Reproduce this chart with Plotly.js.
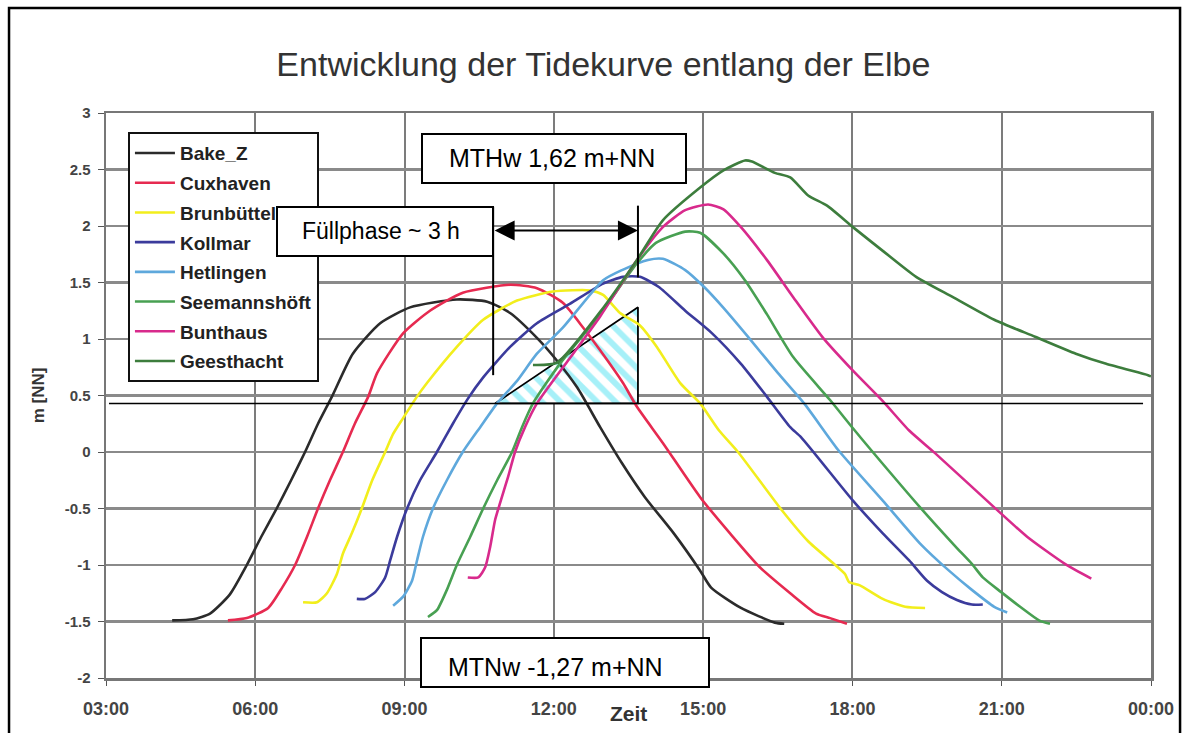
<!DOCTYPE html>
<html>
<head>
<meta charset="utf-8">
<script src="https://cdn.plot.ly/plotly-3.0.1.min.js"></script>
<style>html,body{margin:0;padding:0;background:#fff;}#chart{width:1183px;height:733px;}</style>
</head>
<body>
<div id="chart"></div>
<script>
// Time in hours (03:00 = 3, 00:00 next day = 24), water level in m [NN]
var bakeZ_t = [4.33,4.75,5.09,5.49,5.83,6.12,6.43,6.72,7.00,7.26,7.54,7.96,8.51,9.11,10.05,10.66,11.12,11.66,12.06,12.47,12.93,13.37,13.83,14.41,14.94,15.16,15.76,16.44,16.63];
var bakeZ_m = [-1.49,-1.48,-1.43,-1.26,-1.00,-0.75,-0.50,-0.25,0.00,0.25,0.49,0.87,1.14,1.28,1.35,1.33,1.23,1.01,0.81,0.57,0.22,-0.10,-0.40,-0.72,-1.05,-1.20,-1.38,-1.51,-1.52];

var cux_t = [5.45,5.83,6.26,6.54,6.80,7.04,7.26,7.50,7.76,8.00,8.27,8.45,8.97,9.51,10.17,11.12,11.66,12.18,12.59,12.93,13.39,13.67,14.19,14.94,15.54,16.14,16.75,17.27,17.55,17.89];
var cux_m = [-1.49,-1.47,-1.38,-1.20,-1.00,-0.75,-0.50,-0.25,0.00,0.25,0.49,0.70,1.05,1.25,1.41,1.48,1.45,1.32,1.10,0.90,0.61,0.40,0.08,-0.40,-0.72,-1.02,-1.25,-1.43,-1.47,-1.52];

var brun_t = [6.96,7.24,7.44,7.64,7.76,7.94,8.14,8.35,8.61,8.77,8.97,9.25,9.45,10.05,10.58,11.26,11.98,12.73,12.99,13.33,13.73,14.07,14.54,14.94,15.32,15.70,16.59,17.11,17.63,17.85,17.93,18.15,18.61,19.06,19.46];
var brun_m = [-1.33,-1.33,-1.25,-1.08,-0.90,-0.72,-0.50,-0.25,0.00,0.16,0.30,0.49,0.61,0.93,1.17,1.34,1.42,1.43,1.39,1.23,1.12,0.93,0.61,0.43,0.19,0.00,-0.52,-0.79,-0.99,-1.08,-1.15,-1.18,-1.30,-1.37,-1.38];

var koll_t = [8.04,8.20,8.41,8.61,8.71,8.85,9.05,9.31,9.65,9.97,10.27,10.58,11.12,11.66,12.32,12.99,13.39,13.73,14.11,14.64,15.18,15.76,16.28,16.75,16.97,18.01,18.61,19.14,19.50,19.80,20.10,20.40,20.62];
var koll_m = [-1.30,-1.30,-1.24,-1.11,-0.96,-0.75,-0.50,-0.25,0.00,0.25,0.47,0.66,0.93,1.14,1.31,1.49,1.55,1.55,1.46,1.25,1.05,0.78,0.49,0.22,0.13,-0.43,-0.72,-0.96,-1.14,-1.24,-1.31,-1.35,-1.35];

var hetl_t = [8.77,8.97,9.15,9.25,9.37,9.57,9.85,10.17,10.52,10.86,11.26,11.66,12.18,12.99,13.37,13.89,14.19,14.64,15.02,15.40,15.92,16.50,17.03,17.71,18.61,19.36,19.94,20.40,20.85,21.11];
var hetl_m = [-1.36,-1.28,-1.14,-0.96,-0.75,-0.50,-0.25,0.00,0.22,0.43,0.63,0.87,1.10,1.52,1.61,1.70,1.71,1.61,1.46,1.28,1.01,0.70,0.43,0.02,-0.43,-0.81,-1.05,-1.22,-1.37,-1.42];

var seem_t = [9.47,9.65,9.85,10.05,10.32,10.58,10.86,11.16,11.36,11.58,12.12,12.93,13.67,14.05,14.64,14.94,15.40,15.84,16.28,16.81,17.55,18.01,18.37,19.36,20.10,20.40,20.62,20.99,21.37,21.75,21.97];
var seem_m = [-1.46,-1.40,-1.22,-1.00,-0.75,-0.50,-0.25,0.00,0.22,0.43,0.78,1.22,1.67,1.85,1.95,1.94,1.76,1.52,1.22,0.84,0.46,0.21,0.02,-0.49,-0.85,-0.99,-1.11,-1.24,-1.37,-1.49,-1.52];

var bunt_t = [10.27,10.48,10.62,10.72,10.82,10.92,11.08,11.22,11.42,11.66,12.32,12.93,13.67,14.19,14.64,15.10,15.40,15.76,16.28,16.81,17.41,18.01,18.61,19.14,19.66,20.85,21.51,22.27,22.80];
var bunt_m = [-1.11,-1.11,-1.02,-0.84,-0.60,-0.45,-0.22,0.00,0.22,0.43,0.83,1.20,1.70,1.99,2.14,2.19,2.15,1.99,1.70,1.37,1.01,0.72,0.45,0.19,-0.01,-0.49,-0.75,-0.99,-1.12];

var gees_t = [11.58,12.06,12.93,13.67,14.19,14.94,15.40,15.84,15.98,16.44,16.75,17.11,17.49,18.01,18.61,19.28,20.02,20.85,21.67,22.49,23.10,23.94,24.00];
var gees_m = [0.77,0.79,1.24,1.70,2.05,2.34,2.49,2.58,2.57,2.47,2.43,2.27,2.18,1.99,1.78,1.55,1.37,1.17,1.02,0.87,0.78,0.68,0.67];

var stationNames = ["Bake_Z","Cuxhaven","Brunbüttel","Kollmar","Hetlingen","Seemannshöft","Bunthaus","Geesthacht"];
var stationColors = ["#2b2b2b","#e62a50","#f2ee1c","#3b3b9c","#5ea8dc","#48a052","#d82a8c","#3d7d3d"];
var stationTimes = [bakeZ_t,cux_t,brun_t,koll_t,hetl_t,seem_t,bunt_t,gees_t];
var stationLevels = [bakeZ_m,cux_m,brun_m,koll_m,hetl_m,seem_m,bunt_m,gees_m];

var tickHours = [3,6,9,12,15,18,21,24];
var tickLabels = ["03:00","06:00","09:00","12:00","15:00","18:00","21:00","00:00"];
var yTickVals = [-2,-1.5,-1,-0.5,0,0.5,1,1.5,2,2.5,3];
var yTickLabels = ["-2","-1.5","-1","-0.5","0","0.5","1","1.5","2","2.5","3"];

// Annotation geometry (hours, m)
var meanLevel = 0.43;           // horizontal reference line
var fillStart = 10.78, fillEnd = 13.69;
var triX = [10.82, 13.69, 13.69, 10.82];
var triY = [0.43, 1.28, 0.43, 0.43];

var font = "Liberation Sans, Arial, sans-serif";

var traces = [{
  x: triX, y: triY, type: "scatter", mode: "lines", fill: "toself",
  fillcolor: "#ffffff",
  fillpattern: {shape: "\\", fgcolor: "#a6f0f8", bgcolor: "#ffffff", size: 13, solidity: 0.45},
  line: {color: "#000", width: 1.8}, showlegend: false, hoverinfo: "skip"
}];
for (var i = 0; i < stationNames.length; i++) {
  traces.push({
    x: stationTimes[i], y: stationLevels[i], name: stationNames[i],
    type: "scatter", mode: "lines", legendgroup: "g" + i,
    line: {color: stationColors[i], width: 2.6, shape: "spline", smoothing: 0.6}
  });
}

var layout = {
  width: 1183, height: 733,
  margin: {l: 106, r: 32, t: 113, b: 55},
  paper_bgcolor: "#fff", plot_bgcolor: "#fff",
  title: {text: "Entwicklung der Tidekurve entlang der Elbe", x: 0.51, xref: "container", xanchor: "center",
          y: 0.913, yref: "container", yanchor: "middle",
          font: {family: font, size: 34, color: "#333"}},
  xaxis: {range: [3, 24], tickvals: tickHours, ticktext: tickLabels,
          showgrid: true, gridcolor: "#7c7c7c", gridwidth: 2, zeroline: false,
          showline: true, mirror: true, linecolor: "#777", linewidth: 2.5,
          ticks: "outside", ticklen: 5, tickcolor: "#555", ticklabelstandoff: 8,
          tickfont: {family: font, size: 18, color: "#444", weight: "bold"},
          title: {text: ""}},
  yaxis: {range: [-2, 3], tickvals: yTickVals, ticktext: yTickLabels,
          showgrid: true, gridcolor: "#8a8a8a", gridwidth: 2.5, zeroline: false,
          showline: true, mirror: true, linecolor: "#777", linewidth: 2.5,
          ticks: "outside", ticklen: 6, tickcolor: "#555", ticklabelstandoff: 4,
          tickfont: {family: font, size: 15, color: "#444", weight: "bold"},
          title: {text: "m [NN]", standoff: 16, font: {family: font, size: 17, color: "#333", weight: "bold"}}},
  legend: {x: 0.021, y: 0.966, xanchor: "left", yanchor: "top",
           bgcolor: "#fff", bordercolor: "#111", borderwidth: 2,
           tracegroupgap: 2, itemwidth: 40,
           font: {family: font, size: 19, color: "#222", weight: "bold"}},
  showlegend: true,
  shapes: [
    {type: "line", xref: "x", yref: "y", x0: 3.06, x1: 23.84, y0: meanLevel, y1: meanLevel, line: {color: "#000", width: 1.5}},
    {type: "line", xref: "x", yref: "y", x0: fillStart, x1: fillStart, y0: 0.68, y1: 2.17, line: {color: "#000", width: 2}},
    {type: "line", xref: "x", yref: "y", x0: fillEnd, x1: fillEnd, y0: 1.545, y1: 2.18, line: {color: "#000", width: 2}},
    {type: "rect", xref: "paper", yref: "paper", x0: -0.0928, x1: 1.0278, y0: -0.12, y1: 1.186, line: {color: "#000", width: 2.5}, fillcolor: "rgba(0,0,0,0)", layer: "below"}
  ],
  annotations: [
    {xref: "paper", yref: "paper", x: 0.5, y: -0.062, yanchor: "middle", text: "Zeit", showarrow: false,
     font: {family: font, size: 21, color: "#333", weight: "bold"}},
    {xref: "x", yref: "y", x: 12.0, y: 2.595, text: "\u00a0", showarrow: false, width: 262, height: 47, borderpad: 0,
     bordercolor: "#000", borderwidth: 2, bgcolor: "#fff"},
    {xref: "x", yref: "y", x: 11.96, y: 2.60, text: "MTHw 1,62 m+NN", showarrow: false,
     font: {family: font, size: 25, color: "#000"}},
    {xref: "x", yref: "y", x: 8.61, y: 1.955, text: "\u00a0", showarrow: false, width: 214, height: 47, borderpad: 0,
     bordercolor: "#000", borderwidth: 2, bgcolor: "#fff"},
    {xref: "x", yref: "y", x: 8.53, y: 1.96, text: "Füllphase ~ 3 h", showarrow: false,
     font: {family: font, size: 23, color: "#000"}},
    {xref: "x", yref: "y", x: 12.22, y: -1.865, text: "\u00a0", showarrow: false, width: 286, height: 47, borderpad: 0,
     bordercolor: "#000", borderwidth: 2, bgcolor: "#fff"},
    {xref: "x", yref: "y", x: 12.03, y: -1.905, text: "MTNw -1,27 m+NN", showarrow: false,
     font: {family: font, size: 25, color: "#000"}},
    {xref: "x", yref: "y", x: fillEnd, y: 1.96, ax: fillStart, ay: 1.96, axref: "x", ayref: "y", text: "",
     showarrow: true, arrowside: "end+start", arrowhead: 2, startarrowhead: 2, arrowsize: 2, startarrowsize: 2,
     arrowwidth: 2, arrowcolor: "#000", standoff: 0, startstandoff: 0}
  ]
};

Plotly.newPlot("chart", traces, layout, {displayModeBar: false, staticPlot: true});
</script>
</body>
</html>
